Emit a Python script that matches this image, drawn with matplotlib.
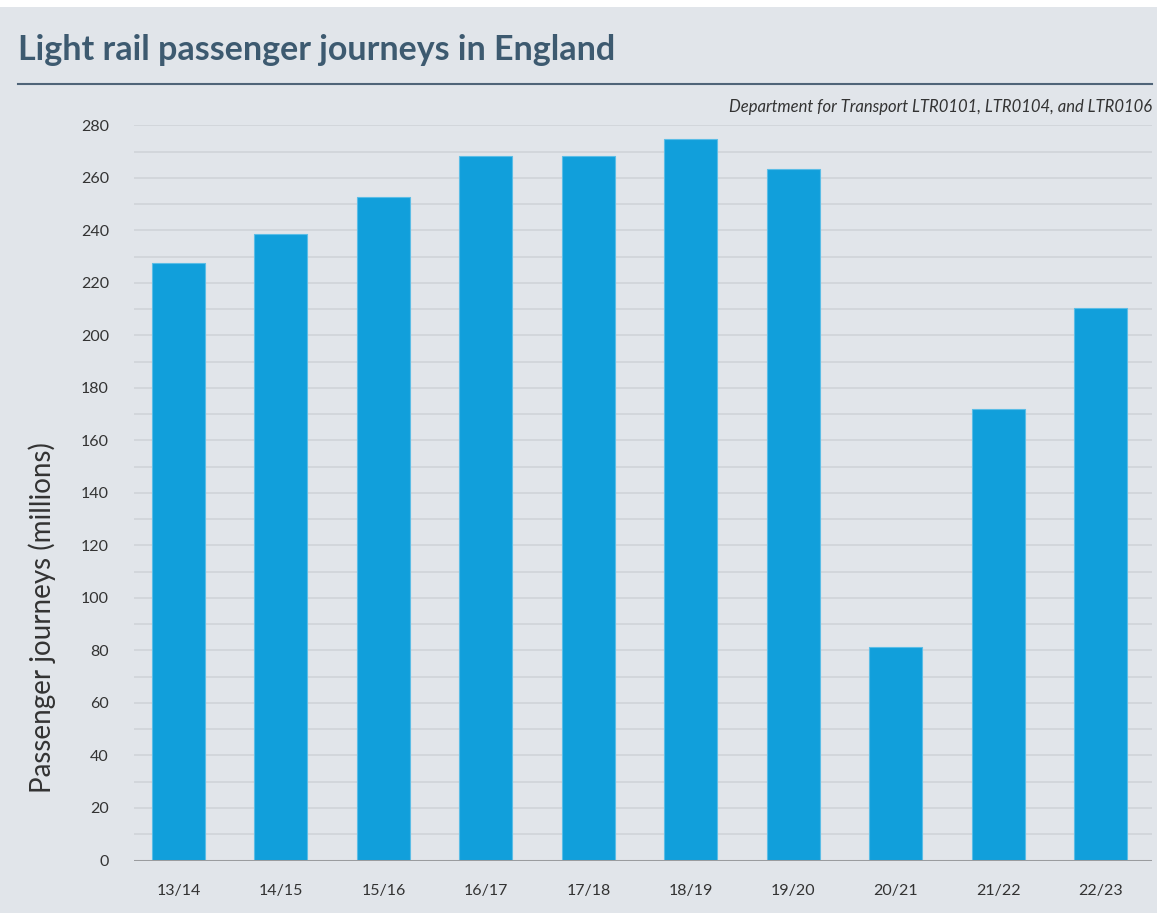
import matplotlib.pyplot as plt
from matplotlib.patches import Rectangle
from matplotlib.lines import Line2D

years = ['13/14', '14/15', '15/16', '16/17', '17/18', '18/19', '19/20', '20/21', '21/22', '22/23']
journeys = [227.5, 238.6, 252.7, 268.4, 268.4, 274.7, 263.3, 81.3, 171.9, 210.4]
y_ticks = list(range(0, 281, 20))
grid_lines = list(range(0, 281, 10))

BG = '#e1e5ea'
BAR = '#119fdb'
TITLE = '#3d5a70'
TEXT = '#333333'

plt.rcParams['font.family'] = ['Lato', 'DejaVu Sans']

fig = plt.figure(figsize=(11.57, 9.13), dpi=100)
fig.patch.set_facecolor('white')
# grey panel, with a thin white strip across the top
fig.patches.append(Rectangle((0, 0), 1, 1 - 7 / 913, transform=fig.transFigure,
                             facecolor=BG, edgecolor='none', zorder=-1))

ax = fig.add_axes([134 / 1157, 1 - 860.5 / 913, (1152 - 134) / 1157, (860.5 - 125.3) / 913])
ax.set_facecolor(BG)

for g in grid_lines[1:]:
    ax.axhline(g, color='#d0d4d9', lw=1.2, zorder=0)

x = list(range(len(years)))
ax.bar(x, journeys, width=0.517, color=BAR, edgecolor='#5bbde6', linewidth=0.8, zorder=2)
ax.axhline(0, color='#9a9c9f', lw=2.2, zorder=3)

ax.set_xlim(-0.434, 9.5)
ax.set_ylim(0, 280)
ax.set_yticks(y_ticks)
ax.set_yticklabels([str(v) for v in y_ticks])
ax.set_xticks(x)
ax.set_xticklabels(years)
ax.tick_params(axis='y', length=0, pad=18, labelsize=11.5, labelcolor=TEXT)
ax.tick_params(axis='x', length=0, pad=17, labelsize=11.5, labelcolor=TEXT)
for s in ax.spines.values():
    s.set_visible(False)

ax.set_ylabel('Passenger journeys (millions)', fontsize=20, color=TEXT, fontweight='normal')
ax.yaxis.set_label_coords(-0.077, 0.33)

fig.text(18 / 1157, 1 - 50 / 913, 'Light rail passenger journeys in England',
         fontsize=24.5, fontweight='bold', color=TITLE, va='center', ha='left')
fig.add_artist(Line2D([18 / 1157, 1152 / 1157], [1 - 84.5 / 913, 1 - 84.5 / 913],
                      transform=fig.transFigure, color='#4f6478', lw=1.5))
fig.text(1152 / 1157, 1 - 107 / 913,
         'Department for Transport LTR0101, LTR0104, and LTR0106',
         fontsize=12, style='italic', color=TEXT, ha='right', va='center')

fig.savefig('out.png', dpi=100, facecolor=fig.get_facecolor())
